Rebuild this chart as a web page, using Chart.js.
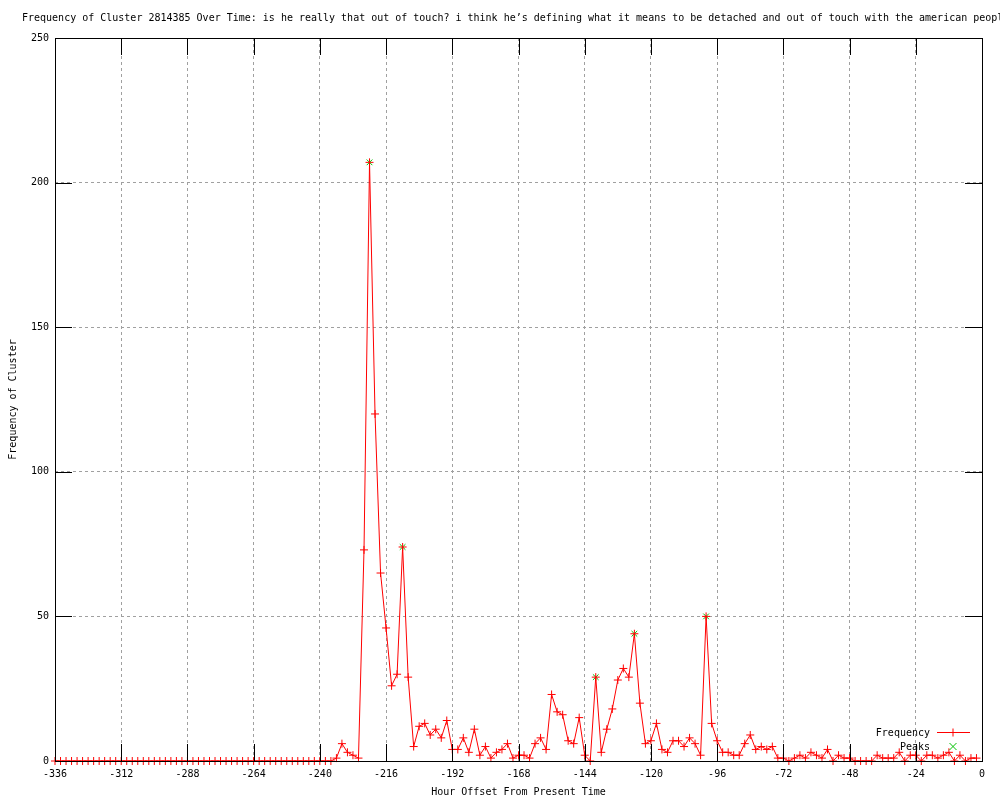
<!DOCTYPE html>
<html lang="en">
  <head>
    <meta charset="UTF-8" />
    <title>Frequency of Cluster 2814385 Over Time</title>
    <style>
      body { margin: 0; background: #fff; }
      canvas { display: block; }
    </style>
  </head>
  <body>
    <canvas id="chart" width="1000" height="800"></canvas>

    <script src="https://cdn.jsdelivr.net/npm/chart.js@4.4.0/dist/chart.umd.min.js"></script>
    <script>
      const titleText =
        "Frequency of Cluster 2814385 Over Time: is he really that out of touch? i think he’s defining what it means to be detached and out of touch with the american people";

      // one reading every 2 hours, from -336 up to -2
      const firstHour = -336;
      const stepHours = 2;
      const freq = [
        0, 0, 0, 0, 0, 0, 0, 0, 0, 0, 0, 0, 0, 0, 0, 0, 0, 0, 0, 0, 0, 0, 0, 0, 0,
        0, 0, 0, 0, 0, 0, 0, 0, 0, 0, 0, 0, 0, 0, 0, 0, 0, 0, 0, 0, 0, 0, 0, 0, 0, 0,
        1, 6, 3, 2, 1,
        73, 207, 120, 65, 46, 26, 30, 74, 29, 5,
        12, 13, 9, 11, 8, 14, 4, 4, 8, 3,
        11, 2, 5, 1, 3, 4, 6, 1, 2, 2,
        1, 6, 8, 4, 23, 17, 16, 7, 6, 15,
        2, 0, 29, 3, 11, 18, 28, 32, 29, 44,
        20, 6, 7, 13, 4, 3, 7, 7, 5, 8,
        6, 2, 50, 13, 7, 3, 3, 2, 2, 6,
        9, 4, 5, 4, 5, 1, 1, 0, 1, 2,
        1, 3, 2, 1, 4, 0, 2, 1, 1, 0,
        0, 0, 0, 2, 1, 1, 1, 3, 0, 2,
        2, 0, 2, 2, 1, 2, 3, 0, 2, 0,
        1, 1,
      ];
      const hours = freq.map((_, i) => firstHour + i * stepHours);

      const peakHours = [-222, -210, -140, -126, -100];
      const peakValues = [207, 74, 29, 44, 50];

      const xMin = -336, xMax = 0, xStep = 24;
      const yMin = 0, yMax = 250, yStep = 50;

      const FONT = '"DejaVu Sans Mono", "Liberation Mono", monospace';
      const RED = "#ff0000";
      const GREEN = "#00c000";
      const TIC = 17;

      Chart.defaults.font.family = FONT;
      Chart.defaults.font.size = 10;
      Chart.defaults.color = "#000";

      // border, inward tics, legend and title drawn the gnuplot way
      const gnuplotLook = {
        id: "gnuplotLook",
        afterDatasetsDraw(chart) {
          const { ctx, chartArea: a, scales } = chart;
          ctx.save();
          ctx.strokeStyle = "#000";
          ctx.lineWidth = 1;
          ctx.beginPath();
          scales.x.ticks.forEach((t) => {
            const px = Math.round(scales.x.getPixelForValue(t.value)) + 0.5;
            ctx.moveTo(px, a.bottom);
            ctx.lineTo(px, a.bottom - TIC);
            ctx.moveTo(px, a.top);
            ctx.lineTo(px, a.top + TIC);
          });
          scales.y.ticks.forEach((t) => {
            const py = Math.round(scales.y.getPixelForValue(t.value)) + 0.5;
            ctx.moveTo(a.left, py);
            ctx.lineTo(a.left + TIC, py);
            ctx.moveTo(a.right, py);
            ctx.lineTo(a.right - TIC, py);
          });
          ctx.stroke();
          ctx.strokeRect(a.left + 0.5, a.top + 0.5, a.right - a.left, a.bottom - a.top);
          ctx.restore();
        },
        afterDraw(chart) {
          const { ctx, chartArea: a } = chart;
          ctx.save();
          ctx.font = "10px " + FONT;
          ctx.fillStyle = "#000";
          ctx.textBaseline = "middle";

          ctx.textAlign = "left";
          ctx.fillText(titleText, 22, 18);

          // legend, bottom right inside the plot
          const tx = a.right - 52;
          const sx = a.right - 29;
          const y1 = a.bottom - 28.5;
          const y2 = a.bottom - 14.5;
          ctx.textAlign = "right";
          ctx.fillText("Frequency", tx, y1 + 1);
          ctx.fillText("Peaks", tx, y2 + 1);

          ctx.lineWidth = 1;
          ctx.strokeStyle = RED;
          ctx.beginPath();
          ctx.moveTo(a.right - 45, y1);
          ctx.lineTo(a.right - 12, y1);
          ctx.moveTo(sx, y1 - 4);
          ctx.lineTo(sx, y1 + 4);
          ctx.stroke();

          ctx.strokeStyle = GREEN;
          ctx.beginPath();
          ctx.moveTo(sx - 3.5, y2 - 3.5);
          ctx.lineTo(sx + 3.5, y2 + 3.5);
          ctx.moveTo(sx - 3.5, y2 + 3.5);
          ctx.lineTo(sx + 3.5, y2 - 3.5);
          ctx.stroke();
          ctx.restore();
        },
      };

      new Chart(document.getElementById("chart"), {
        type: "line",
        data: {
          datasets: [
            {
              label: "Frequency",
              data: hours.map((h, i) => ({ x: h, y: freq[i] })),
              borderColor: RED,
              borderWidth: 1,
              pointStyle: "cross",
              pointRadius: 4,
              pointBorderColor: RED,
              pointBorderWidth: 1,
              tension: 0,
              clip: false,
            },
            {
              label: "Peaks",
              data: peakHours.map((h, i) => ({ x: h, y: peakValues[i] })),
              showLine: false,
              pointStyle: "crossRot",
              pointRadius: 4,
              pointBorderColor: GREEN,
              pointBorderWidth: 1,
              clip: false,
            },
          ],
        },
        options: {
          responsive: false,
          animation: false,
          devicePixelRatio: 1,
          layout: { padding: { left: 0, right: 18, top: 38, bottom: 0 } },
          plugins: {
            legend: { display: false },
            tooltip: { enabled: false },
          },
          scales: {
            x: {
              type: "linear",
              min: xMin,
              max: xMax,
              ticks: { stepSize: xStep, padding: 7, maxRotation: 0 },
              grid: { color: "#a0a0a0", drawTicks: false },
              border: { display: false, dash: [3, 3] },
              title: {
                display: true,
                text: "Hour Offset From Present Time",
                padding: { top: 0, bottom: 2 },
              },
              afterFit: (scale) => { scale.height = 39; },
            },
            y: {
              min: yMin,
              max: yMax,
              ticks: { stepSize: yStep, padding: 6 },
              grid: { color: "#a0a0a0", drawTicks: false },
              border: { display: false, dash: [3, 3] },
              title: {
                display: true,
                text: "Frequency of Cluster",
                padding: { top: 7, bottom: 0 },
              },
              afterFit: (scale) => { scale.width = 55; },
            },
          },
        },
        plugins: [gnuplotLook],
      });
    </script>
  </body>
</html>
